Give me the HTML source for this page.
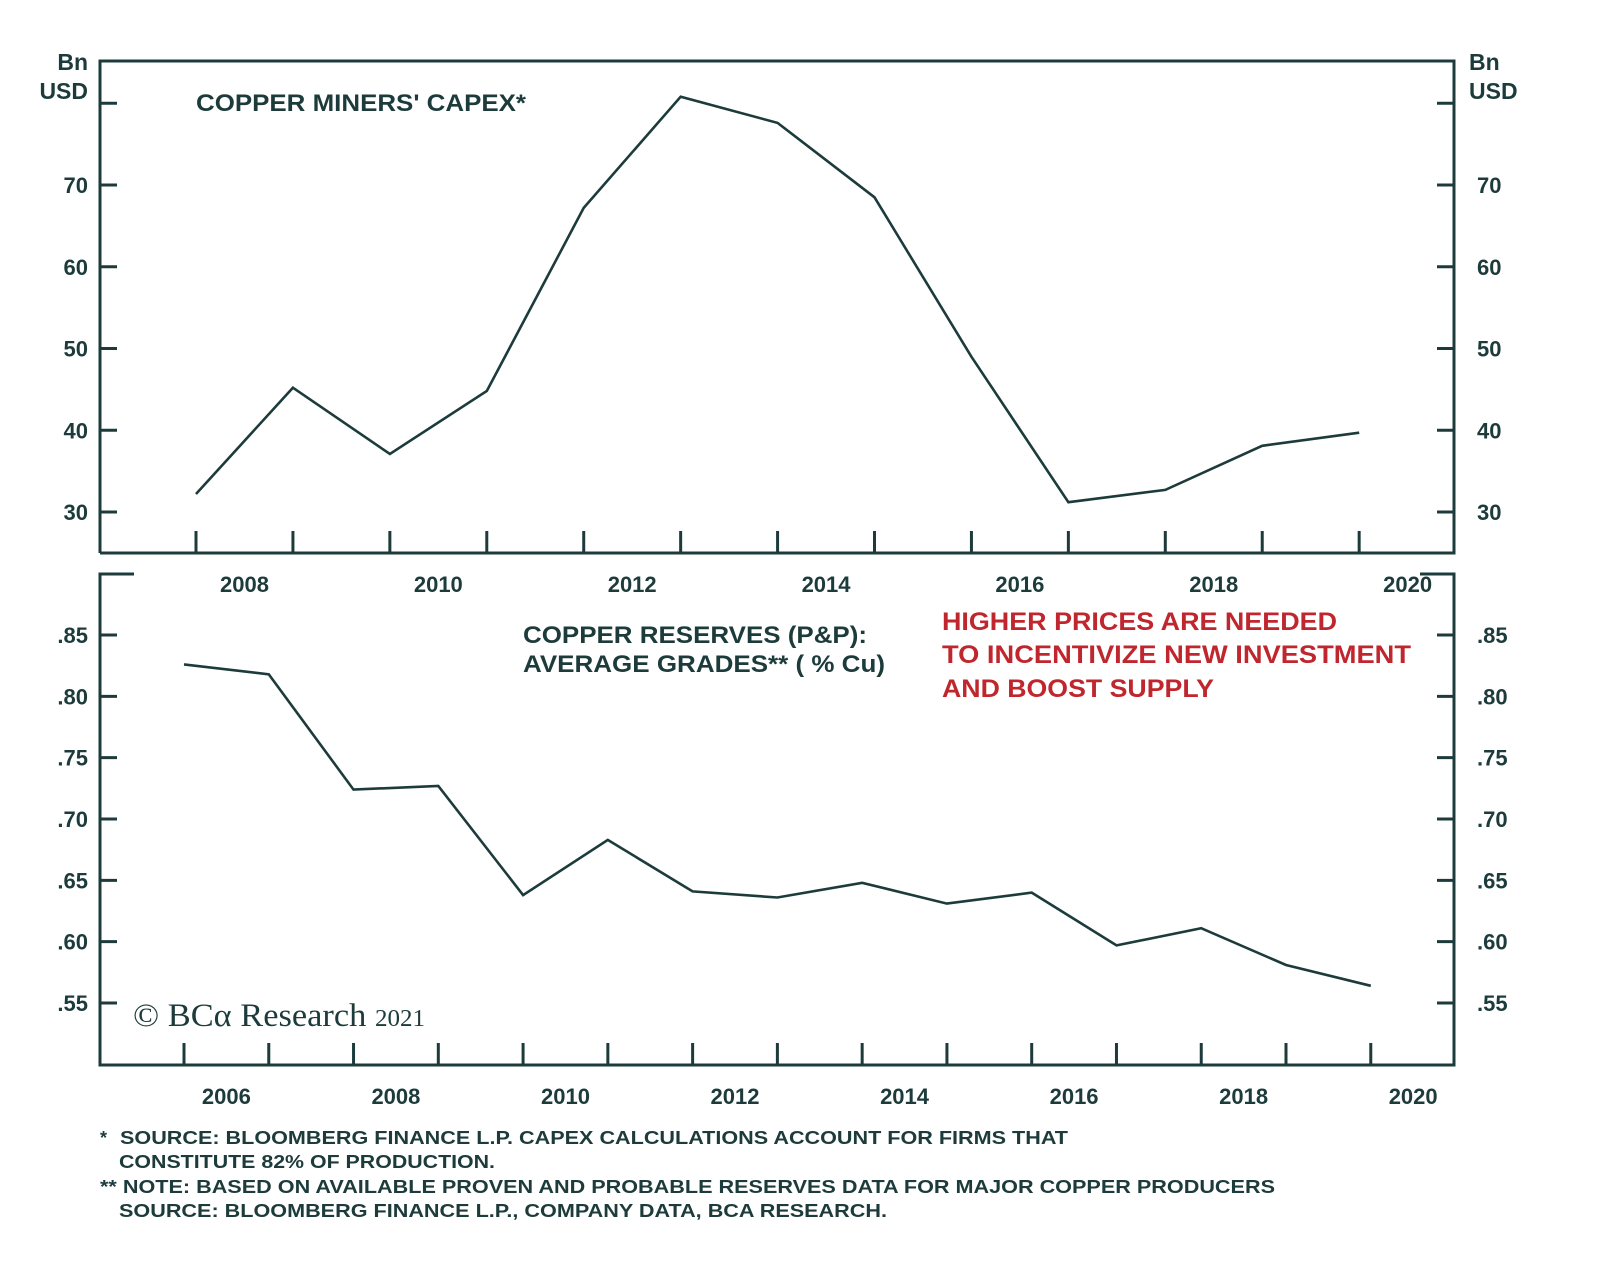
<!DOCTYPE html>
<html><head><meta charset="utf-8"><style>
body{margin:0;background:#fff;}
svg{display:block;font-family:"Liberation Sans",sans-serif;}
</style></head><body>
<svg id="chart" width="1600" height="1267" viewBox="0 0 1600 1267">
<g id="top"></g>
<g id="bot"></g>
<g id="txt">
<text x="196" y="111" font-size="24" font-weight="bold" fill="#1d3b3b" textLength="330" lengthAdjust="spacingAndGlyphs">COPPER MINERS' CAPEX*</text>
<text x="523" y="643" font-size="24" font-weight="bold" fill="#1d3b3b" textLength="344" lengthAdjust="spacingAndGlyphs">COPPER RESERVES (P&amp;P):</text>
<text x="523" y="672" font-size="24" font-weight="bold" fill="#1d3b3b" textLength="362" lengthAdjust="spacingAndGlyphs">AVERAGE GRADES** ( % Cu)</text>
<text x="942" y="630" font-size="25" fill="#c0262d" font-weight="bold" textLength="395" lengthAdjust="spacingAndGlyphs">HIGHER PRICES ARE NEEDED</text>
<text x="942" y="663" font-size="25" fill="#c0262d" font-weight="bold" textLength="469" lengthAdjust="spacingAndGlyphs">TO INCENTIVIZE NEW INVESTMENT</text>
<text x="942" y="697" font-size="25" fill="#c0262d" font-weight="bold" textLength="272" lengthAdjust="spacingAndGlyphs">AND BOOST SUPPLY</text>
<text x="88" y="70" font-size="23" font-weight="bold" fill="#1d3b3b" text-anchor="end">Bn</text>
<text x="88" y="99" font-size="23" font-weight="bold" fill="#1d3b3b" text-anchor="end">USD</text>
<text x="1469" y="70" font-size="23" font-weight="bold" fill="#1d3b3b">Bn</text>
<text x="1469" y="99" font-size="23" font-weight="bold" fill="#1d3b3b">USD</text>
<text x="133" y="1026" font-family="Liberation Serif,serif" font-size="33" fill="#1d3b3b" textLength="292" lengthAdjust="spacingAndGlyphs">© BCα Research <tspan font-size="24">2021</tspan></text>
<g font-size="18" font-weight="bold" fill="#1d3b3b">
<text x="100" y="1144">*</text>
<text x="120" y="1144" textLength="948" lengthAdjust="spacingAndGlyphs">SOURCE: BLOOMBERG FINANCE L.P. CAPEX CALCULATIONS ACCOUNT FOR FIRMS THAT</text>
<text x="119" y="1168" textLength="376" lengthAdjust="spacingAndGlyphs">CONSTITUTE 82% OF PRODUCTION.</text>
<text x="100" y="1193" textLength="1175" lengthAdjust="spacingAndGlyphs">** NOTE: BASED ON AVAILABLE PROVEN AND PROBABLE RESERVES DATA FOR MAJOR COPPER PRODUCERS</text>
<text x="119" y="1217" textLength="768" lengthAdjust="spacingAndGlyphs">SOURCE: BLOOMBERG FINANCE L.P., COMPANY DATA, BCA RESEARCH.</text>
</g>
</g>
</svg>
<script>
const capexYears=[2007,2008,2009,2010,2011,2012,2013,2014,2015,2016,2017,2018,2019];
const capexValues=[32.2,45.2,37.1,44.8,67.2,80.8,77.6,68.5,49.0,31.2,32.7,38.1,39.7];
const capexTicks=[30,40,50,60,70,80];
const capexTickLabels=["30","40","50","60","70",""];
const capexXLabels=[2008,2010,2012,2014,2016,2018,2020];
const gradeYears=[2005,2006,2007,2008,2009,2010,2011,2012,2013,2014,2015,2016,2017,2018,2019];
const gradeValues=[0.826,0.818,0.724,0.727,0.638,0.683,0.641,0.636,0.648,0.631,0.640,0.597,0.611,0.581,0.564];
const gradeTicks=[0.55,0.60,0.65,0.70,0.75,0.80,0.85];
const gradeTickLabels=[".55",".60",".65",".70",".75",".80",".85"];
const gradeXLabels=[2006,2008,2010,2012,2014,2016,2018,2020];

const NS="http://www.w3.org/2000/svg", C="#1d3b3b";
function mk(p,tag,a){const e=document.createElementNS(NS,tag);for(const k in a)e.setAttribute(k,a[k]);p.appendChild(e);return e;}

function panel(g,o){
  const {L,R,T,B,x,y,years,vals,ticks,tlabels,xlabels,xTickYears,labY,name}=o;
  const f=mk(g,'path',{d:o.frame,fill:'none',stroke:C,'stroke-width':3});
  
  
  ticks.forEach((v,i)=>{
    const yy=y(v);
    const t1=mk(g,'line',{x1:L,x2:L+17,y1:yy,y2:yy,stroke:C,'stroke-width':3});
    
    
    const t2=mk(g,'line',{x1:R-17,x2:R,y1:yy,y2:yy,stroke:C,'stroke-width':3});
    
    
    if(tlabels[i]){
      const a=mk(g,'text',{x:L-12,y:yy+8,'text-anchor':'end','font-size':22,'font-weight':'bold',fill:C});
      a.textContent=tlabels[i];
      
      
      const b=mk(g,'text',{x:R+23,y:yy+8,'font-size':22,'font-weight':'bold',fill:C});
      b.textContent=tlabels[i];
      
      
    }
  });
  xTickYears.forEach(yr=>{
    const xx=x(yr);
    const t=mk(g,'line',{x1:xx,x2:xx,y1:B-22,y2:B,stroke:C,'stroke-width':3});
    
    
  });
  xlabels.forEach(yr=>{
    const t=mk(g,'text',{x:x(yr-0.5),y:labY,'text-anchor':'middle','font-size':22,'font-weight':'bold',fill:C});
    t.textContent=yr;
    
    
  });
  const pts=years.map((yr,i)=>x(yr).toFixed(1)+','+y(vals[i]).toFixed(1)).join(' ');
  const pl=mk(g,'polyline',{points:pts,fill:'none',stroke:C,'stroke-width':2.6,'stroke-linejoin':'miter'});
  
  
}

panel(document.getElementById('top'),{
  L:100,R:1454,T:61,B:553,name:'capex',
  frame:'M100,553 L100,61 L1454,61 L1454,553 L100,553',
  x:yr=>196+(yr-2007)*96.93, y:v=>512-(v-30)*8.175,
  years:capexYears,vals:capexValues,ticks:capexTicks,tlabels:capexTickLabels,
  xlabels:capexXLabels,xTickYears:capexYears,labY:592
});
panel(document.getElementById('bot'),{
  L:100,R:1454,T:574,B:1065,name:'grades',
  frame:'M134,574 L100,574 L100,1065 L1454,1065 L1454,574 L1420,574',
  x:yr=>184+(yr-2005)*84.77, y:v=>635+(0.85-v)*1226.7,
  years:gradeYears,vals:gradeValues,ticks:gradeTicks,tlabels:gradeTickLabels,
  xlabels:gradeXLabels,xTickYears:gradeYears,labY:1104
});
</script>
</body></html>
